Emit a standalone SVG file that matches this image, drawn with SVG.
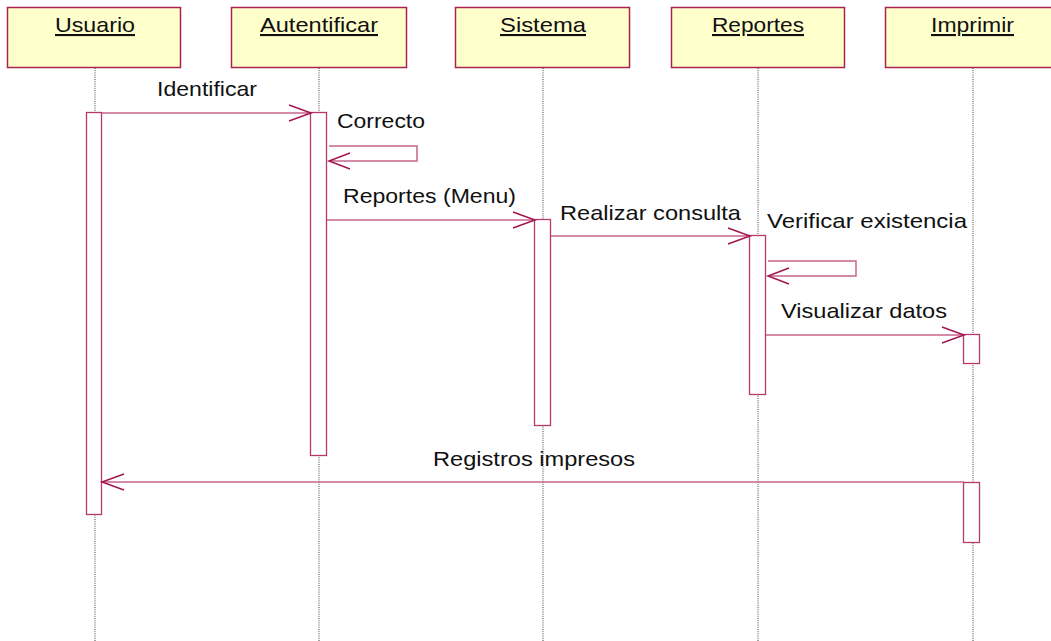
<svg xmlns="http://www.w3.org/2000/svg" width="1051" height="641" viewBox="0 0 1051 641">
<style>
.hdr{fill:#ffffcc;stroke:#a8244f;stroke-width:1.5}
.lbl{font-family:"Liberation Sans",Arial,sans-serif;font-size:21px;fill:#111}
.name{text-decoration:underline}
.life{stroke:#444;stroke-width:1;stroke-dasharray:1,1.2;fill:none}
.act{fill:#fff;stroke:#b8386a;stroke-width:1.3}
.msg{stroke:#c8648c;stroke-width:1.5;fill:none}
.head{stroke:#a3164f;stroke-width:1.5;fill:none}
</style>
<rect width="1051" height="641" fill="#fff"/>
<g id="lifelines">
<line class="life" x1="95" y1="68" x2="95" y2="641"/>
<line class="life" x1="319" y1="68" x2="319" y2="641"/>
<line class="life" x1="543" y1="68" x2="543" y2="641"/>
<line class="life" x1="758" y1="68" x2="758" y2="641"/>
<line class="life" x1="973" y1="68" x2="973" y2="641"/>
</g>
<g id="usuario">
<rect class="hdr" x="7.5" y="7.5" width="173" height="60"/>
<text class="lbl name" x="95" y="32" text-anchor="middle" textLength="80" lengthAdjust="spacingAndGlyphs">Usuario</text>
<rect class="act" x="86.5" y="112.5" width="15" height="402"/>
</g>
<g id="autentificar">
<rect class="hdr" x="231.5" y="7.5" width="175" height="60"/>
<text class="lbl name" x="319" y="32" text-anchor="middle" textLength="118" lengthAdjust="spacingAndGlyphs">Autentificar</text>
<rect class="act" x="310.5" y="112.5" width="16" height="343"/>
</g>
<g id="sistema">
<rect class="hdr" x="455.5" y="7.5" width="174" height="60"/>
<text class="lbl name" x="543" y="32" text-anchor="middle" textLength="86" lengthAdjust="spacingAndGlyphs">Sistema</text>
<rect class="act" x="534.5" y="219.5" width="16" height="206"/>
</g>
<g id="reportes">
<rect class="hdr" x="671.5" y="7.5" width="173" height="60"/>
<text class="lbl name" x="758" y="32" text-anchor="middle" textLength="92" lengthAdjust="spacingAndGlyphs">Reportes</text>
<rect class="act" x="749.5" y="235.5" width="16" height="159"/>
</g>
<g id="imprimir">
<rect class="hdr" x="885.5" y="7.5" width="175" height="60"/>
<text class="lbl name" x="972.5" y="32" text-anchor="middle" textLength="83" lengthAdjust="spacingAndGlyphs">Imprimir</text>
<rect class="act" x="963.5" y="334.5" width="16" height="29"/>
<rect class="act" x="963.5" y="482.5" width="16" height="60"/>
</g>
<g id="connectors">
<line class="msg" x1="102" y1="113" x2="310" y2="113"/>
<polyline class="head" points="289,105 311,113 289,121"/>
<text class="lbl" x="157" y="96" textLength="100" lengthAdjust="spacingAndGlyphs">Identificar</text>

<polyline class="msg" points="329,146 417,146 417,161 330,161"/>
<polyline class="head" points="350,153 329,161 350,169"/>
<text class="lbl" x="337" y="128" textLength="88" lengthAdjust="spacingAndGlyphs">Correcto</text>

<line class="msg" x1="327" y1="220" x2="534" y2="220"/>
<polyline class="head" points="513,212 535,220 513,228"/>
<text class="lbl" x="343" y="203" textLength="173" lengthAdjust="spacingAndGlyphs">Reportes (Menu)</text>

<line class="msg" x1="551" y1="236" x2="749" y2="236"/>
<polyline class="head" points="728,228 750,236 728,244"/>
<text class="lbl" x="560" y="220" textLength="181" lengthAdjust="spacingAndGlyphs">Realizar consulta</text>

<polyline class="msg" points="768,261 856,261 856,276 769,276"/>
<polyline class="head" points="789,268 768,276 789,284"/>
<text class="lbl" x="767" y="228" textLength="200" lengthAdjust="spacingAndGlyphs">Verificar existencia</text>

<line class="msg" x1="766" y1="335" x2="963" y2="335"/>
<polyline class="head" points="942,327 964,335 942,343"/>
<text class="lbl" x="781" y="318" textLength="166" lengthAdjust="spacingAndGlyphs">Visualizar datos</text>

<line class="msg" x1="964" y1="482" x2="103" y2="482"/>
<polyline class="head" points="124,474 102,482 124,490"/>
<text class="lbl" x="433" y="466" textLength="202" lengthAdjust="spacingAndGlyphs">Registros impresos</text>
</g>
</svg>
